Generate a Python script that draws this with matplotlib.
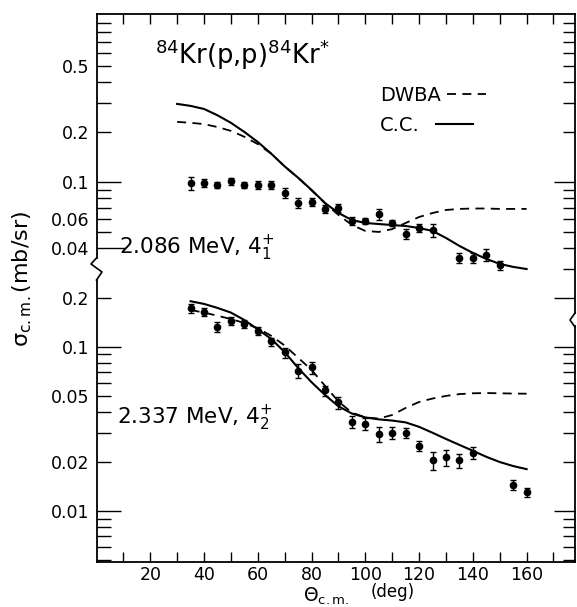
import matplotlib.pyplot as plt
from matplotlib.lines import Line2D
from matplotlib.ticker import FixedLocator, FixedFormatter, NullFormatter

W, H, DPI = 577, 607, 100

# ---- data ----
# 2.086 MeV 4+_1 state (upper panel)
theta_1 = [35, 40, 45, 50, 55, 60, 65, 70, 75, 80, 85, 90, 95, 100, 105, 110,
           115, 120, 125, 135, 140, 145, 150]
sig_1 = [0.0986, 0.0986, 0.096, 0.101, 0.096, 0.096, 0.096, 0.0858, 0.0745,
         0.0758, 0.0687, 0.0697, 0.0582, 0.0582, 0.0641, 0.0566, 0.0487,
         0.0528, 0.0513, 0.0348, 0.0348, 0.0363, 0.0316]
err_1 = [0.009, 0.005, 0.0045, 0.005, 0.0045, 0.005, 0.005, 0.006, 0.005,
         0.004, 0.004, 0.004, 0.0033, 0.0025, 0.005, 0.0024, 0.0035, 0.003,
         0.0045, 0.0025, 0.0025, 0.003, 0.002]

# 2.337 MeV 4+_2 state (lower panel)
theta_2 = [35, 40, 45, 50, 55, 60, 65, 70, 75, 80, 85, 90, 95, 100, 105, 110,
           115, 120, 125, 130, 135, 140, 155, 160]
sig_2 = [0.173, 0.163, 0.132, 0.145, 0.139, 0.125, 0.108, 0.0926, 0.0714,
         0.075, 0.0543, 0.0459, 0.0351, 0.0339, 0.0295, 0.0299, 0.0299,
         0.0249, 0.0204, 0.0213, 0.0204, 0.0226, 0.0144, 0.013]
err_2 = [0.011, 0.009, 0.009, 0.008, 0.008, 0.007, 0.006, 0.0065, 0.007,
         0.0065, 0.0038, 0.0039, 0.003, 0.0029, 0.003, 0.0025, 0.0021,
         0.0018, 0.0026, 0.0024, 0.002, 0.0019, 0.001, 0.0009]

# calculations
theta_c1 = [30, 35, 40, 45, 50, 55, 60, 65, 70, 75, 80, 85, 90, 95, 100, 105,
            110, 115, 120, 125, 130, 135, 140, 145, 150, 155, 160]
cc_1 = [0.295, 0.287, 0.275, 0.252, 0.227, 0.2, 0.174, 0.148, 0.124, 0.106,
        0.0895, 0.0747, 0.065, 0.059, 0.0566, 0.0558, 0.055, 0.0543, 0.0528,
        0.0507, 0.046, 0.0412, 0.0374, 0.0344, 0.0321, 0.0308, 0.0299]
dwba_1 = [0.23, 0.227, 0.223, 0.214, 0.203, 0.187, 0.169, 0.148, 0.124,
          0.106, 0.089, 0.0745, 0.0633, 0.0551, 0.0507, 0.05, 0.052, 0.0566,
          0.0615, 0.065, 0.0678, 0.0688, 0.0692, 0.0692, 0.0688, 0.0688,
          0.0688]

theta_c2 = [35, 40, 45, 50, 55, 60, 65, 70, 75, 80, 85, 90, 95, 100, 105,
            110, 115, 120, 125, 130, 135, 140, 145, 150, 155, 160]
cc_2 = [0.19, 0.183, 0.173, 0.162, 0.146, 0.128, 0.112, 0.093, 0.0745, 0.061,
        0.051, 0.0435, 0.0393, 0.0372, 0.0362, 0.0356, 0.0347, 0.0326, 0.03,
        0.0275, 0.0253, 0.0233, 0.0214, 0.0199, 0.0188, 0.018]
dwba_2 = [0.168, 0.162, 0.155, 0.148, 0.14, 0.13, 0.117, 0.102, 0.086,
          0.0725, 0.058, 0.0465, 0.0398, 0.0372, 0.0366, 0.0385, 0.0425,
          0.0462, 0.0485, 0.0503, 0.0516, 0.0522, 0.0524, 0.0522, 0.052,
          0.0519]

x_major = [20, 40, 60, 80, 100, 120, 140, 160]
x_minor = [10, 30, 50, 70, 90, 110, 130, 150, 170]

top_left_lab = [0.5, 0.2, 0.1, 0.06, 0.04]
top_left_minor = [0.9, 0.8, 0.7, 0.6, 0.4, 0.3, 0.09, 0.08, 0.07, 0.05]
top_right = [0.9, 0.8, 0.7, 0.6, 0.5, 0.4, 0.3, 0.2, 0.1, 0.09, 0.08, 0.07,
             0.06, 0.05, 0.04, 0.03, 0.02]
bot_left_lab = [0.2, 0.1, 0.05, 0.02, 0.01]
bot_left_minor = [0.09, 0.08, 0.07, 0.06, 0.04, 0.03, 0.009, 0.008, 0.007,
                  0.006, 0.005]
bot_right = [0.1, 0.09, 0.08, 0.07, 0.06, 0.05, 0.04, 0.03, 0.02, 0.01,
             0.009, 0.008, 0.007, 0.006, 0.005]

plt.rcParams['font.family'] = ['DejaVu Sans']
plt.rcParams['mathtext.default'] = 'regular'

fig = plt.figure(figsize=(W / DPI, H / DPI), dpi=DPI)


def rect(left, top, right, bottom):
    return [left / W, 1 - bottom / H, (right - left) / W, (bottom - top) / H]


def fx(px):
    return px / W


def fy(py):
    return 1 - py / H


ax1 = fig.add_axes(rect(96.5, 14, 575, 320))
ax2 = fig.add_axes(rect(96.5, 280, 575, 562))
r1 = ax1.twinx()
r2 = ax2.twinx()

lims1 = (0.01475, 1.026)
lims2 = (0.00489, 0.256)
for a in (ax1, r1):
    a.set_yscale('log')
    a.set_ylim(*lims1)
for a in (ax2, r2):
    a.set_yscale('log')
    a.set_ylim(*lims2)

for a in (ax1, ax2, r1, r2):
    a.set_xlim(0, 178)
    a.patch.set_alpha(0)
    for s in a.spines.values():
        s.set_visible(False)
        s.set_linewidth(1.3)

dash = (0, (5, 3.5))

# curves and data
l_dwba, = ax1.plot(theta_c1, dwba_1, color='k', lw=1.3, ls=dash,
                   label='DWBA', clip_on=False)
l_cc, = ax1.plot(theta_c1, cc_1, color='k', lw=1.5, label='C.C.',
                 clip_on=False)
ax1.errorbar(theta_1, sig_1, yerr=err_1, fmt='o', color='k', ms=4.5,
             capsize=2.5, elinewidth=1, capthick=1)
ax2.plot(theta_c2, dwba_2, color='k', lw=1.3, ls=dash)
ax2.plot(theta_c2, cc_2, color='k', lw=1.5)
ax2.errorbar(theta_2, sig_2, yerr=err_2, fmt='o', color='k', ms=4.5,
             capsize=2.5, elinewidth=1, capthick=1)

# spines (with breaks)
ax1.spines['top'].set_visible(True)
ax1.spines['left'].set_visible(True)
ax1.spines['left'].set_bounds(0.0348, lims1[1])
ax2.spines['bottom'].set_visible(True)
ax2.spines['left'].set_visible(True)
r1.spines['right'].set_visible(True)
r1.spines['right'].set_bounds(0.0162, lims1[1])
r2.spines['right'].set_visible(True)
r2.spines['right'].set_bounds(lims2[0], 0.134)

# x ticks
ax1.xaxis.set_ticks_position('top')
ax2.xaxis.set_ticks_position('bottom')
for a in (ax1, ax2):
    a.xaxis.set_major_locator(FixedLocator(x_major))
    a.xaxis.set_minor_locator(FixedLocator(x_minor))
    a.tick_params(axis='x', which='both', direction='in', length=7, width=1)
ax1.tick_params(axis='x', labeltop=False)
ax2.set_xticklabels([str(v) for v in x_major])
ax2.tick_params(axis='x', labelsize=12.5, pad=3)
r1.tick_params(axis='x', which='both', top=False, bottom=False,
               labelbottom=False, labeltop=False)
r2.tick_params(axis='x', which='both', top=False, bottom=False,
               labelbottom=False, labeltop=False)


def fmt(v):
    return ('%g' % v)


# y ticks, left
for a, lab, mnr in ((ax1, top_left_lab, top_left_minor),
                    (ax2, bot_left_lab, bot_left_minor)):
    a.yaxis.set_major_locator(FixedLocator(lab))
    a.yaxis.set_major_formatter(FixedFormatter([fmt(v) for v in lab]))
    a.yaxis.set_minor_locator(FixedLocator(mnr))
    a.yaxis.set_minor_formatter(NullFormatter())
    a.tick_params(axis='y', which='both', direction='in', length=10, width=1,
                  labelsize=12.5, pad=5)

# y ticks, right
for a, pos in ((r1, top_right), (r2, bot_right)):
    a.yaxis.set_major_locator(FixedLocator(pos))
    a.yaxis.set_minor_locator(FixedLocator([]))
    a.yaxis.set_major_formatter(NullFormatter())
    a.tick_params(axis='y', which='both', direction='in', length=9, width=1)

fig.canvas.draw()
for a, vals in ((ax1, top_left_lab), (ax2, bot_left_lab)):
    for t, v in zip(a.yaxis.get_major_ticks(), vals):
        if v in (0.1, 0.01):
            t.tick1line.set_markersize(17)
        if v == 0.04:
            t.tick1line.set_markersize(20)
for a, long_ticks, vals in ((r1, (0.1, 0.02), top_right),
                            (r2, (0.1, 0.01), bot_right)):
    for t, v in zip(a.yaxis.get_major_ticks(), vals):
        if v in long_ticks:
            t.tick2line.set_markersize(15)

# axis break marks
fig.add_artist(Line2D([fx(96.5), fx(91), fx(102), fx(96.5)],
                      [fy(258), fy(264), fy(272), fy(280)],
                      transform=fig.transFigure, color='k', lw=1.2))
fig.add_artist(Line2D([fx(575), fx(570), fx(575)],
                      [fy(313), fy(320), fy(327)],
                      transform=fig.transFigure, color='k', lw=1.2))

# texts
ax1.text(0.122, 0.866, r'$^{84}$Kr(p,p)$^{84}$Kr$^{*}$', transform=ax1.transAxes,
         fontsize=18.5, ha='left', va='center')
ax1.text(8.3, 0.04, r'2.086 MeV, $4^{+}_{1}$', fontsize=15.5, ha='left',
         va='center')
ax2.text(7.6, 0.0369, r'2.337 MeV, $4^{+}_{2}$', fontsize=15.5, ha='left',
         va='center')

# legend: label first, key after, labels left-aligned
leg1 = ax1.legend(handles=[l_dwba], loc='upper left',
                  bbox_to_anchor=(0.593, 0.765), frameon=False,
                  markerfirst=False, fontsize=14, handlelength=2.0,
                  handletextpad=0.3, borderaxespad=0, borderpad=0)
ax1.add_artist(leg1)
ax1.legend(handles=[l_cc], loc='upper left', bbox_to_anchor=(0.593, 0.667),
           frameon=False, markerfirst=False, fontsize=14, handlelength=1.9,
           handletextpad=0.8, borderaxespad=0, borderpad=0)

fig.text(fx(22), fy(279), r'$\sigma_{c.m.}$(mb/sr)', rotation=90,
         fontsize=16, ha='center', va='center')
fig.text(fx(303), fy(596), r'$\Theta_{c.m.}$', fontsize=13.5, ha='left',
         va='center')
fig.text(fx(371), fy(592), '(deg)', fontsize=12, ha='left', va='center')

fig.savefig('out.png', dpi=DPI)
